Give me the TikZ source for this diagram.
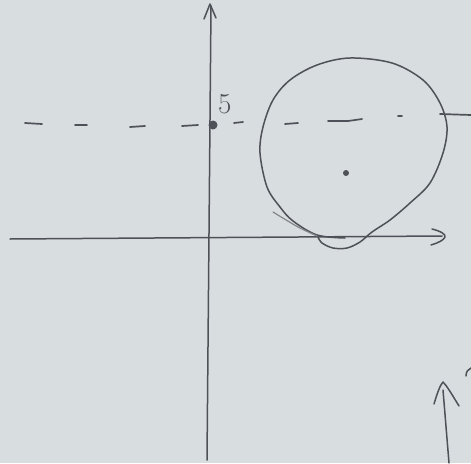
\documentclass[tikz,border=0pt]{standalone}
\usepackage{tikz}
\definecolor{paper}{RGB}{216,221,223}
\definecolor{pencil}{RGB}{78,82,88}
\tikzset{
  pen/.style={draw=pencil, line width=1.5pt, line cap=round, line join=round},
  faint/.style={draw=pencil!70, line width=1.2pt, line cap=round},
  dash seg/.style={draw=pencil, line width=1.7pt, line cap=round},
  dotmark/.style={circle, fill=pencil, inner sep=0pt, minimum size=#1},
}
\begin{document}
\begin{tikzpicture}[x=1pt,y=-1pt]
\useasboundingbox (0,0) rectangle (471,463);
\fill[paper] (0,0) rectangle (471,463);
% y axis
\draw[pen] (207,460) -- (211,6);
\draw[pen] (204,19) -- (210,4) -- (216,18);
% x axis
\draw[pen] (10,239) -- (442,236);
\draw[pen] (432,229) .. controls (440,231) and (446,234) .. (445,237) .. controls (444,240) and (438,243) .. (431,245);
% dashed line y = 5
\foreach \a/\b/\c/\d in {25/123/42/124, 75/125/87/125, 130/127/145/126, 182/126/198/125, 234/123/243/122, 285/124/298/123, 328/121/348/121, 348/121/362/119, 398/116/402/116, 440/114/471/115}
  \draw[dash seg] (\a,\b) -- (\c,\d);
% point (0,5) and label
\node[dotmark=9pt] (p5) at (213,125) {};
\node[text=pencil, font=\fontsize{29}{29}\selectfont, anchor=south west, inner sep=0pt] (l5) at (218,114) {5};
% circle (hand drawn)
\draw[pen] plot[smooth, tension=0.55] coordinates {
  (345,238) (317,235) (293,221) (280,207) (267,187) (260,153) (263,127) (273,100) (290,80) (317,65) (350,58) (392,63) (423,80) (440,103) (447,127) (443,153) (430,183) (410,203) (390,220) (372,232) (360,242) (347,248) (333,248) (322,243) (318,237)};
\draw[faint] plot[smooth] coordinates {(273,212) (298,227) (317,236)};
% centre
\node[dotmark=6pt] (c) at (346,173) {};
% partial arrow bottom right
\draw[pen] (449,463) -- (443,390);
\draw[pen] (434,404) .. controls (437,394) and (440,385) .. (443,382) .. controls (447,386) and (451,393) .. (459,406);
\draw[pen] (466,376) .. controls (466,372) and (468,369) .. (471,368);
\end{tikzpicture}
\end{document}
